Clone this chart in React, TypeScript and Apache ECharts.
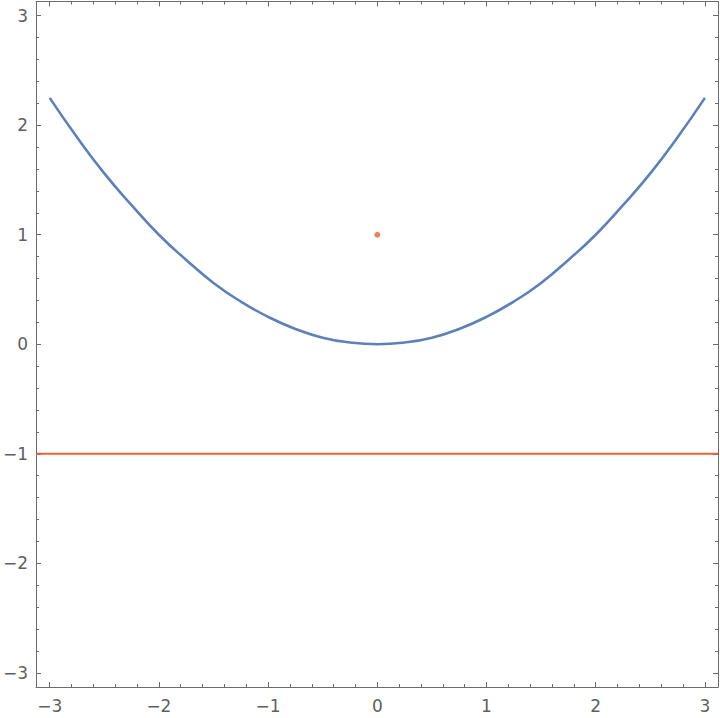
import React, { useEffect, useRef } from "react";
import * as echarts from "echarts";

const parabolaX = [-3, -2.75, -2.5, -2.25, -2, -1.75, -1.5, -1.25, -1, -0.75, -0.5, -0.25, 0, 0.25, 0.5, 0.75, 1, 1.25, 1.5, 1.75, 2, 2.25, 2.5, 2.75, 3];
const parabolaY = [2.25, 1.89, 1.56, 1.27, 1.0, 0.77, 0.56, 0.39, 0.25, 0.14, 0.06, 0.016, 0, 0.016, 0.06, 0.14, 0.25, 0.39, 0.56, 0.77, 1.0, 1.27, 1.56, 1.89, 2.25];
const focusPoint = [0, 1];
const directrixY = -1;
const majorTicks = [-3, -2, -1, 0, 1, 2, 3];
const minorTicks = [-3.0, -2.8, -2.6, -2.4, -2.2, -2.0, -1.8, -1.6, -1.4, -1.2, -1.0, -0.8, -0.6, -0.4, -0.2, 0, 0.2, 0.4, 0.6, 0.8, 1.0, 1.2, 1.4, 1.6, 1.8, 2.0, 2.2, 2.4, 2.6, 2.8, 3.0];
const xRange = [-3.125, 3.12];
const yRange = [-3.13, 3.13];

const AXIS_COLOR = "#6b6b6b";
const LABEL_COLOR = "#5f5f5f";
const fmt = (v: number) => (v < 0 ? "\u2212" + Math.abs(v) : String(v));

function makeAxis(kind: "x" | "y", position: string, major: boolean, showLabel: boolean, range: number[]) {
  return {
    type: "value",
    position,
    min: range[0],
    max: range[1],
    splitLine: { show: false },
    axisLine: { show: major, onZero: false, lineStyle: { color: AXIS_COLOR, width: 1 } },
    axisTick: {
      show: true,
      inside: true,
      length: major ? 5 : 3,
      customValues: major ? majorTicks : minorTicks,
      lineStyle: { color: AXIS_COLOR, width: 1 },
    },
    axisLabel: {
      show: showLabel,
      customValues: majorTicks,
      formatter: fmt,
      color: LABEL_COLOR,
      fontSize: 17,
      fontFamily: "DejaVu Sans",
      margin: kind === "x" ? 10 : 8,
    },
  };
}

export default function App() {
  const ref = useRef<HTMLDivElement>(null);
  useEffect(() => {
    if (!ref.current) return;
    const chart = echarts.init(ref.current, null, { renderer: "svg" });
    const curve = parabolaX.map((x, i) => [x, parabolaY[i]]);
    chart.setOption({
      animation: false,
      backgroundColor: "#ffffff",
      grid: { left: 32.5, right: 2, top: 1.5, bottom: 31, containLabel: false },
      xAxis: [
        makeAxis("x", "bottom", true, true, xRange),
        makeAxis("x", "bottom", false, false, xRange),
        makeAxis("x", "top", true, false, xRange),
        makeAxis("x", "top", false, false, xRange),
      ],
      yAxis: [
        makeAxis("y", "left", true, true, yRange),
        makeAxis("y", "left", false, false, yRange),
        makeAxis("y", "right", true, false, yRange),
        makeAxis("y", "right", false, false, yRange),
      ],
      series: [
        {
          type: "line",
          data: curve,
          smooth: true,
          showSymbol: false,
          lineStyle: { color: "#5E81B5", width: 2.6 },
          z: 3,
        },
        {
          type: "line",
          data: [[xRange[0], directrixY], [xRange[1], directrixY]],
          showSymbol: false,
          lineStyle: { color: "#EB6235", width: 1.8 },
          z: 2,
        },
        {
          type: "scatter",
          data: [focusPoint],
          symbolSize: 6,
          itemStyle: { color: "#EB6235" },
          z: 4,
        },
      ],
    });
    return () => chart.dispose();
  }, []);
  return <div ref={ref} style={{ position: "fixed", left: 0, top: 0, width: 720, height: 718 }} />;
}
